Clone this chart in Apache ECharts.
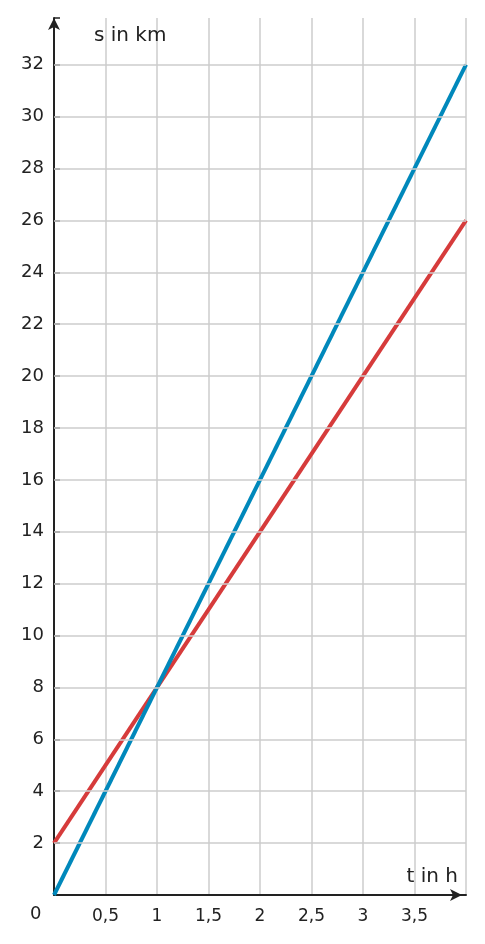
<!DOCTYPE html>
<html><head><meta charset="utf-8">
<script src="https://cdn.jsdelivr.net/npm/echarts@6/dist/echarts.min.js"></script>
<style>html,body{margin:0;padding:0;background:#fff}#c{width:485px;height:944px}</style>
</head><body><div id="c"></div>
<script>
const tValues = [0, 4];
const seriesA = [0, 32];
const seriesB = [2, 26];
const yTicks = [2,4,6,8,10,12,14,16,18,20,22,24,26,28,30,32];
const labelA = [3.3, 28.8];
const labelB = [3.7, 22.4];
const font = 'DejaVu Sans';
const chart = echarts.init(document.getElementById('c'));
chart.setOption({
  animation: false,
  grid: {left: 54, right: 19, top: 18, bottom: 49},
  xAxis: {
    type: 'value', min: 0, max: 4, interval: 0.5,
    axisLine: {show: true, symbol: ['none','arrow'], symbolSize: [9,12], symbolOffset: [0,-4], lineStyle: {color: '#222', width: 2}},
    axisTick: {show: false},
    splitLine: {show: true, lineStyle: {color: '#ccc', width: 1.5}},
    axisLabel: {color: '#222', fontFamily: font, fontSize: 17, margin: 13,
      formatter: v => (v === 0 || v === 4) ? '' : String(v).replace('.', ',')},
    name: 't in h', nameLocation: 'end', nameGap: 0,
    nameTextStyle: {color: '#222', fontFamily: font, fontSize: 20, align: 'right', verticalAlign: 'bottom', padding: [0, 8, 8, 0]}
  },
  yAxis: {
    type: 'value', min: 0, max: 33.8, interval: 2,
    axisLine: {show: true, symbol: ['none','arrow'], symbolSize: [9,12], lineStyle: {color: '#222', width: 2}},
    axisTick: {show: true, inside: true, length: 6, lineStyle: {color: '#222', width: 1.5}},
    splitLine: {show: false},
    axisLabel: {color: '#222', fontFamily: font, fontSize: 18, margin: 10,
      formatter: v => (v === 0 || v > 32) ? '' : String(v)},
    name: 's in km', nameLocation: 'end', nameGap: 0,
    nameTextStyle: {color: '#222', fontFamily: font, fontSize: 20, align: 'left', verticalAlign: 'top', padding: [8, 0, 0, 40]}
  },
  graphic: [{type: 'text', left: 30, top: 905, style: {text: '0', fill: '#222', font: '18px DejaVu Sans'}}],
  series: [
    {type: 'line', silent: true, symbol: 'none', data: [],
      markLine: {silent: true, symbol: 'none', label: {show: false},
        lineStyle: {color: '#ccc', width: 1.5, type: 'solid'},
        data: yTicks.map(v => ({yAxis: v}))}},
    {type: 'line', symbol: 'none', data: tValues.map((t, i) => [t, seriesB[i]]),
      lineStyle: {color: '#d63b3b', width: 4}},
    {type: 'line', symbol: 'none', data: tValues.map((t, i) => [t, seriesA[i]]),
      lineStyle: {color: '#0088bb', width: 4}},
    {type: 'scatter', symbolSize: 1, itemStyle: {opacity: 0}, data: [
      {value: labelA, label: {show: true, formatter: 'A', color: '#0088bb', textBorderWidth: 0, fontWeight: 'bold', fontSize: 20, fontFamily: font, position: 'inside'}},
      {value: labelB, label: {show: true, formatter: 'B', color: '#d63b3b', textBorderWidth: 0, fontWeight: 'bold', fontSize: 20, fontFamily: font, position: 'inside'}}
    ]}
  ]
});
</script></body></html>
